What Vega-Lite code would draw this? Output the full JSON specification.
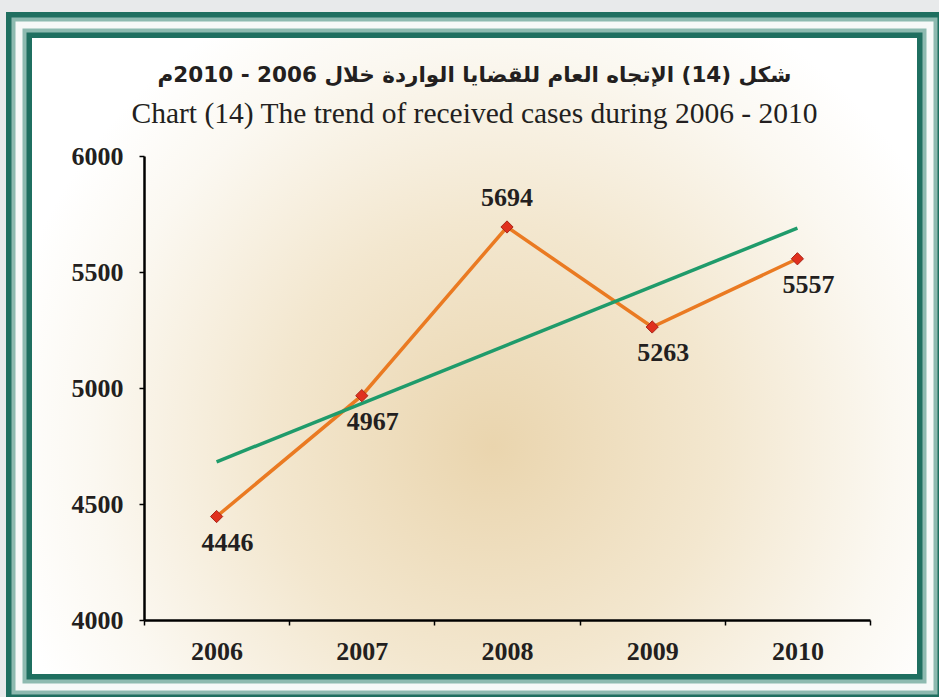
{
  "$schema": "https://vega.github.io/schema/vega-lite/v6.json",
  "width": 911,
  "height": 662,
  "autosize": {"type": "none"},
  "padding": {"left": 19, "top": 25, "right": 9, "bottom": 10},
  "background": "#e8eaeb",
  "config": {"view": {"stroke": null}},
  "title": {
    "text": "شكل (14) الإتجاه العام للقضايا الواردة خلال 2006 - 2010م",
    "subtitle": "Chart (14) The trend of received cases during 2006 - 2010",
    "anchor": "middle",
    "frame": "group",
    "offset": -116,
    "font": "DejaVu Sans",
    "fontSize": 21.5,
    "fontWeight": "bold",
    "color": "#231f20",
    "subtitleFont": "Liberation Serif",
    "subtitleFontSize": 29.5,
    "subtitleColor": "#231f20",
    "subtitlePadding": 13,
    "zindex": 2
  },
  "data": {
    "values": [
      {"year": 2006, "value": 4446},
      {"year": 2007, "value": 4967},
      {"year": 2008, "value": 5694},
      {"year": 2009, "value": 5263},
      {"year": 2010, "value": 5557}
    ]
  },
  "layer": [
    {
      "data": {"values": [{}]},
      "mark": {
        "type": "rect",
        "fill": {
          "gradient": "radial",
          "x1": 0.52, "y1": 0.6, "r1": 0,
          "x2": 0.52, "y2": 0.6, "r2": 0.55,
          "stops": [
            {"offset": 0, "color": "#ead5ae"},
            {"offset": 0.45, "color": "#f3e7cf"},
            {"offset": 0.8, "color": "#fbf8f1"},
            {"offset": 1, "color": "#ffffff"}
          ]
        }
      },
      "encoding": {}
    },
    {
      "data": {"values": [{}]},
      "mark": {"type": "rect", "fill": null, "stroke": "#1f6f60", "strokeWidth": 26},
      "encoding": {}
    },
    {
      "data": {"values": [{}]},
      "mark": {"type": "rect", "fill": null, "stroke": "#8dbab0", "strokeWidth": 15},
      "encoding": {}
    },
    {
      "data": {"values": [{}]},
      "mark": {"type": "rect", "fill": null, "stroke": "#f6f9f8", "strokeWidth": 7},
      "encoding": {}
    },
    {
      "mark": {"type": "line", "color": "#ea7a22", "strokeWidth": 3.5},
      "encoding": {
        "x": {
          "field": "year", "type": "ordinal", "bandPosition": 0.5,
          "scale": {"type": "band", "range": [125, 851], "paddingInner": 0, "paddingOuter": 0},
          "axis": {
            "title": null,
            "zindex": 1,
            "offset": -67,
            "labelAngle": 0,
            "domainColor": "#000000",
            "domainWidth": 2.5,
            "tickColor": "#000000",
            "tickWidth": 1.5,
            "tickSize": 5,
            "tickBand": "extent",
            "labelFont": "Liberation Serif",
            "labelFontWeight": "bold",
            "labelFontSize": 26,
            "labelColor": "#231f20",
            "labelPadding": 13,
            "grid": false
          }
        },
        "y": {
          "field": "value", "type": "quantitative",
          "scale": {"domain": [4000, 6000], "range": [595, 131], "nice": false, "zero": false},
          "axis": {
            "title": null,
            "zindex": 1,
            "offset": -125,
            "values": [4000, 4500, 5000, 5500, 6000],
            "format": "d",
            "domainColor": "#000000",
            "domainWidth": 2.5,
            "tickColor": "#000000",
            "tickWidth": 1.5,
            "tickSize": 5,
            "labelFont": "Liberation Serif",
            "labelFontWeight": "bold",
            "labelFontSize": 26,
            "labelColor": "#231f20",
            "labelPadding": 16,
            "grid": false
          }
        }
      }
    },
    {
      "transform": [{"regression": "value", "on": "year", "method": "linear"}],
      "mark": {"type": "line", "color": "#1f9b6b", "strokeWidth": 3.5},
      "encoding": {
        "x": {"field": "year", "type": "ordinal", "bandPosition": 0.5},
        "y": {"field": "value", "type": "quantitative"}
      }
    },
    {
      "mark": {"type": "point", "shape": "diamond", "filled": true, "fill": "#e0301e", "stroke": "#a8261a", "strokeWidth": 1, "size": 150, "opacity": 1},
      "encoding": {
        "x": {"field": "year", "type": "ordinal", "bandPosition": 0.5},
        "y": {"field": "value", "type": "quantitative"}
      }
    },
    {
      "transform": [{"filter": "datum.year != 2008"}],
      "mark": {"type": "text", "font": "Liberation Serif", "fontWeight": "bold", "fontSize": 26, "color": "#231f20", "dy": 26, "dx": 11, "baseline": "middle"},
      "encoding": {
        "x": {"field": "year", "type": "ordinal", "bandPosition": 0.5},
        "y": {"field": "value", "type": "quantitative"},
        "text": {"field": "value", "type": "quantitative", "format": "d"}
      }
    },
    {
      "transform": [{"filter": "datum.year == 2008"}],
      "mark": {"type": "text", "font": "Liberation Serif", "fontWeight": "bold", "fontSize": 26, "color": "#231f20", "dy": -29, "baseline": "middle"},
      "encoding": {
        "x": {"field": "year", "type": "ordinal", "bandPosition": 0.5},
        "y": {"field": "value", "type": "quantitative"},
        "text": {"field": "value", "type": "quantitative", "format": "d"}
      }
    }
  ]
}
